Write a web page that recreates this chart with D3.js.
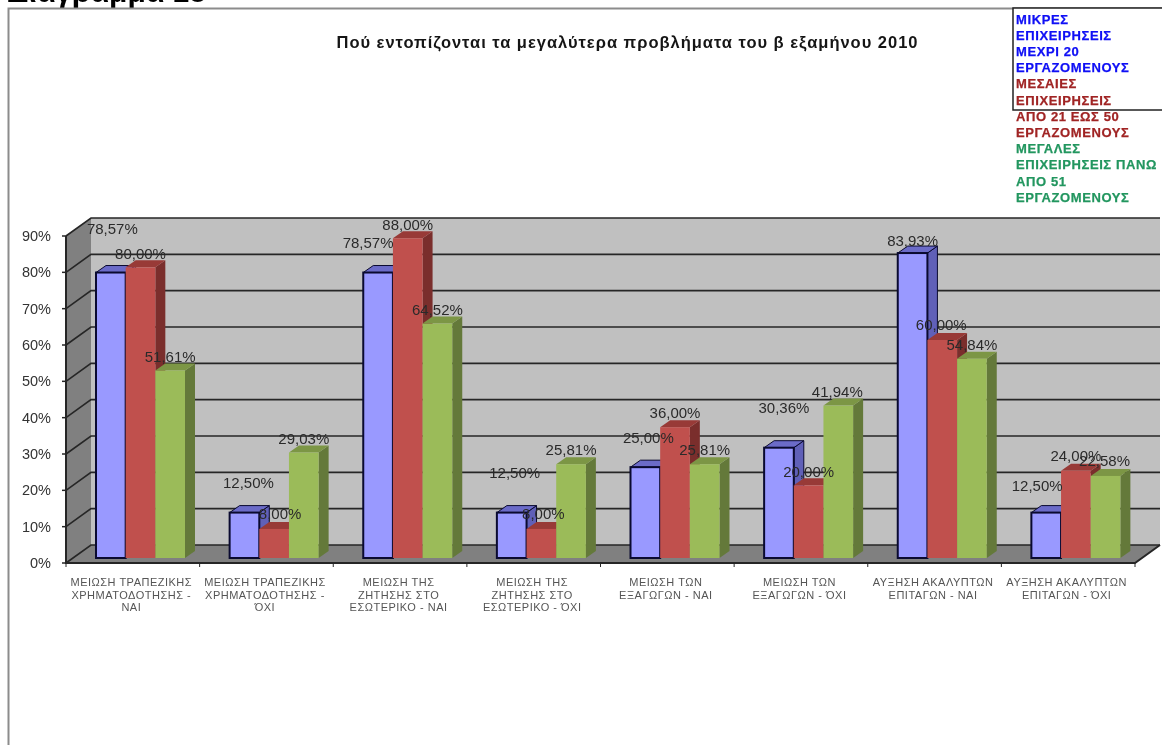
<!DOCTYPE html>
<html>
<head>
<meta charset="utf-8">
<script src="https://cdn.jsdelivr.net/npm/d3@7"></script>
<style>
  html, body { margin: 0; padding: 0; background: #fff; overflow: hidden; }
  svg { display: block; filter: blur(0.4px); }
  text { font-family: "Liberation Sans", Arial, sans-serif; }
</style>
</head>
<body>
<svg id="chart" width="1162" height="745"></svg>
<script>
const heading = "Διάγραμμα 18";
const chartTitle = "Πού εντοπίζονται τα μεγαλύτερα προβλήματα του β εξαμήνου  2010";

const categories = [
  ["ΜΕΙΩΣΗ ΤΡΑΠΕΖΙΚΗΣ", "ΧΡΗΜΑΤΟΔΟΤΗΣΗΣ -", "ΝΑΙ"],
  ["ΜΕΙΩΣΗ ΤΡΑΠΕΖΙΚΗΣ", "ΧΡΗΜΑΤΟΔΟΤΗΣΗΣ -", "ΌΧΙ"],
  ["ΜΕΙΩΣΗ ΤΗΣ", "ΖΗΤΗΣΗΣ ΣΤΟ", "ΕΣΩΤΕΡΙΚΟ - ΝΑΙ"],
  ["ΜΕΙΩΣΗ ΤΗΣ", "ΖΗΤΗΣΗΣ ΣΤΟ", "ΕΣΩΤΕΡΙΚΟ - ΌΧΙ"],
  ["ΜΕΙΩΣΗ ΤΩΝ", "ΕΞΑΓΩΓΩΝ - ΝΑΙ"],
  ["ΜΕΙΩΣΗ ΤΩΝ", "ΕΞΑΓΩΓΩΝ - ΌΧΙ"],
  ["ΑΥΞΗΣΗ ΑΚΑΛΥΠΤΩΝ", "ΕΠΙΤΑΓΩΝ - ΝΑΙ"],
  ["ΑΥΞΗΣΗ ΑΚΑΛΥΠΤΩΝ", "ΕΠΙΤΑΓΩΝ - ΌΧΙ"]
];

const small = [78.57, 12.50, 78.57, 12.50, 25.00, 30.36, 83.93, 12.50];
const medium = [80.00, 8.00, 88.00, 8.00, 36.00, 20.00, 60.00, 24.00];
const large = [51.61, 29.03, 64.52, 25.81, 25.81, 41.94, 54.84, 22.58];

const yTicks = [0, 10, 20, 30, 40, 50, 60, 70, 80, 90];

const legendLines = [
  ["ΜΙΚΡΕΣ", "ΕΠΙΧΕΙΡΗΣΕΙΣ", "ΜΕΧΡΙ  20", "ΕΡΓΑΖΟΜΕΝΟΥΣ"],
  ["ΜΕΣΑΙΕΣ", "ΕΠΙΧΕΙΡΗΣΕΙΣ", "ΑΠΟ 21 ΕΩΣ 50", "ΕΡΓΑΖΟΜΕΝΟΥΣ"],
  ["ΜΕΓΑΛΕΣ", "ΕΠΙΧΕΙΡΗΣΕΙΣ ΠΑΝΩ", "ΑΠΟ 51", "ΕΡΓΑΖΟΜΕΝΟΥΣ"]
];

const series = [small, medium, large];
const faceColors = ["#9999ff", "#c0504d", "#9bbb59"];
const topColors = ["#6b6bc8", "#983a37", "#7c9645"];
const sideColors = ["#6060b8", "#7a2e2c", "#64793a"];
const legendColors = ["#0f0ff5", "#a02424", "#22965f"];

// value labels in the picture are not placed regularly, nudges per group
const labelNudgeX = [
  [1.5, 0, 0], [4, 6, 0], [-10, 0, 0], [3, 2, 0],
  [3, 0, 0], [5, 0, -1], [0, -1, 0], [-9, 0, -1]
];
const labelNudgeY = [
  [-44, -14, -14], [-30, -15, -14], [-30, -14, -14], [-40, -15, -14],
  [-29, -14, -14], [-40, -14, -14], [-12, -15, -14], [-27, -15, -15]
];

const svg = d3.select("#chart");

const left = 66, right = 1135, floorY = 563;
const depthX = 25, depthY = -18;
const barDepthX = 10, barDepthY = -7;
const barBase = 558;

const xScale = d3.scaleBand()
  .domain(d3.range(categories.length))
  .range([left, right]);
const inner = d3.scaleBand()
  .domain([0, 1, 2])
  .range([30, 119]);
// axis values on the front plane
const yScale = d3.scaleLinear().domain([0, 90]).range([floorY, 236]);
const barY = v => yScale(v) - (floorY - barBase);

// page heading, cut by the top edge
svg.append("text")
  .attr("x", 7).attr("y", 2)
  .attr("font-size", 30).attr("font-weight", "bold")
  .text(heading);

// chart frame
svg.append("path")
  .attr("d", "M8.5,745V8.5H1162")
  .attr("fill", "none").attr("stroke", "#8c8c8c").attr("stroke-width", 2);

svg.append("text")
  .attr("x", 627).attr("y", 48)
  .attr("text-anchor", "middle")
  .attr("font-size", 16.5).attr("font-weight", "bold")
  .attr("textLength", 581)
  .attr("fill", "#151515")
  .text(chartTitle);

// walls and floor
const wall = svg.append("g");
wall.append("rect")
  .attr("x", left + depthX).attr("y", yScale(90) + depthY)
  .attr("width", right - left).attr("height", floorY - yScale(90))
  .attr("fill", "#c0c0c0");
wall.append("path")
  .attr("d", d3.line()([
    [left, yScale(0)], [left + depthX, yScale(0) + depthY],
    [left + depthX, yScale(90) + depthY], [left, yScale(90)]
  ]) + "Z")
  .attr("fill", "#808080");
wall.append("path")
  .attr("d", d3.line()([
    [left, floorY], [left + depthX, floorY + depthY],
    [right + depthX, floorY + depthY], [right, floorY]
  ]) + "Z")
  .attr("fill", "#808080");

// gridlines run along the left wall and then the back wall
svg.append("g").selectAll("path")
  .data(yTicks)
  .enter()
  .append("path")
  .attr("d", d => d3.line()([
    [left, yScale(d)],
    [left + depthX, yScale(d) + depthY],
    [right + depthX, yScale(d) + depthY]
  ]))
  .attr("fill", "none")
  .attr("stroke", "#262626")
  .attr("stroke-width", 1.6);

svg.append("path")
  .attr("d", d3.line()([
    [left, yScale(90)], [left, floorY], [right, floorY],
    [right + depthX, floorY + depthY]
  ]))
  .attr("fill", "none").attr("stroke", "#262626").attr("stroke-width", 2);

// bars
categories.forEach((cat, i) => {
  series.forEach((values, s) => {
    const x = xScale(i) + inner(s);
    const w = inner.bandwidth();
    const top = barY(values[i]);
    const g = svg.append("g").attr("class", "bar");
    const outline = s === 0 ? "#0a0a30" : "none";
    g.append("path")
      .attr("d", d3.line()([
        [x + w, top], [x + w + barDepthX, top + barDepthY],
        [x + w + barDepthX, barBase + barDepthY], [x + w, barBase]
      ]) + "Z")
      .attr("fill", sideColors[s]).attr("stroke", outline);
    g.append("path")
      .attr("d", d3.line()([
        [x, top], [x + barDepthX, top + barDepthY],
        [x + w + barDepthX, top + barDepthY], [x + w, top]
      ]) + "Z")
      .attr("fill", topColors[s]).attr("stroke", outline);
    g.append("rect")
      .attr("x", x).attr("y", top)
      .attr("width", w).attr("height", barBase - top)
      .attr("fill", faceColors[s])
      .attr("stroke", outline).attr("stroke-width", s === 0 ? 2 : 0);
  });
});

// value labels
categories.forEach((cat, i) => {
  series.forEach((values, s) => {
    svg.append("text")
      .attr("x", xScale(i) + inner(s) + inner.bandwidth() / 2 + labelNudgeX[i][s])
      .attr("y", barY(values[i]) + labelNudgeY[i][s])
      .attr("dy", "0.35em")
      .attr("text-anchor", "middle")
      .attr("font-size", 15)
      .attr("fill", "#2a2a2a")
      .text(values[i].toFixed(2).replace(".", ",") + "%");
  });
});

// y axis labels
svg.append("g").selectAll("text")
  .data(yTicks)
  .enter()
  .append("text")
  .attr("x", 51).attr("y", d => yScale(d))
  .attr("dy", "0.35em")
  .attr("text-anchor", "end")
  .attr("font-size", 14.5)
  .attr("fill", "#333")
  .text(d => d + "%");

svg.append("g").selectAll("line")
  .data(yTicks)
  .enter()
  .append("line")
  .attr("x1", left - 4).attr("x2", left)
  .attr("y1", d => yScale(d)).attr("y2", d => yScale(d))
  .attr("stroke", "#262626").attr("stroke-width", 1.5);

// x ticks and category labels
svg.append("g").selectAll("line")
  .data(d3.range(categories.length + 1))
  .enter()
  .append("line")
  .attr("x1", d => left + d * xScale.step()).attr("x2", d => left + d * xScale.step())
  .attr("y1", floorY).attr("y2", floorY + 4)
  .attr("stroke", "#262626");

const catLabels = svg.append("g").selectAll("text")
  .data(categories)
  .enter()
  .append("text")
  .attr("text-anchor", "middle")
  .attr("font-size", 11)
  .attr("letter-spacing", 0.5)
  .attr("fill", "#555")
  .attr("y", 586);
catLabels.each(function(lines, i) {
  d3.select(this).selectAll("tspan")
    .data(lines)
    .enter()
    .append("tspan")
    .attr("x", xScale(i) + xScale.bandwidth() / 2 - 1.5)
    .attr("dy", (d, k) => k === 0 ? 0 : 12.6)
    .text(d => d);
});

// legend box, its text runs out of the box
svg.append("rect")
  .attr("x", 1013).attr("y", 8)
  .attr("width", 150).attr("height", 102)
  .attr("fill", "#fff")
  .attr("stroke", "#222").attr("stroke-width", 1.5);

let lineNo = 0;
legendLines.forEach((lines, s) => {
  lines.forEach(line => {
    svg.append("text")
      .attr("x", 1016).attr("y", 23.5 + lineNo * 16.2)
      .attr("font-size", 13).attr("font-weight", "bold")
      .attr("letter-spacing", 0.6)
      .attr("stroke", legendColors[s]).attr("stroke-width", 0.25)
      .attr("fill", legendColors[s])
      .text(line);
    lineNo++;
  });
});
</script>
</body>
</html>
